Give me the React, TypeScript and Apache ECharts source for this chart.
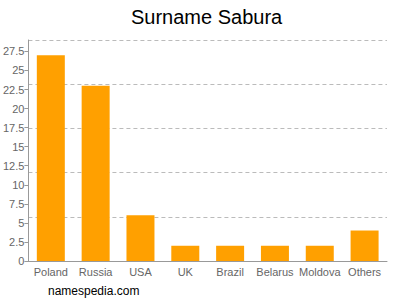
import React, { useEffect, useRef } from "react";
import * as echarts from "echarts";

const categories = ["Poland", "Russia", "USA", "UK", "Brazil", "Belarus", "Moldova", "Others"];
const counts = [27, 23, 6, 2, 2, 2, 2, 4];
const tickValues = [0, 2.5, 5, 7.5, 10, 12.5, 15, 17.5, 20, 22.5, 25, 27.5];
const axisMax = 29;

export default function App() {
  const ref = useRef<HTMLDivElement>(null);
  useEffect(() => {
    if (!ref.current) return;
    const chart = echarts.init(ref.current, undefined, { renderer: "svg" });
    const font = "Liberation Sans, Arial, sans-serif";
    chart.setOption({
      animation: false,
      textStyle: { fontFamily: font },
      title: {
        text: "Surname Sabura",
        left: 126,
        top: 2,
        textStyle: { fontSize: 20, fontWeight: "normal", color: "#000", fontFamily: font },
      },
      graphic: [
        {
          type: "text",
          left: 48,
          top: 285,
          style: { text: "namespedia.com", fontSize: 12, fill: "#000", fontFamily: font },
        },
      ],
      grid: { left: 28, right: 13, top: 40, bottom: 39, containLabel: false },
      xAxis: {
        type: "category",
        data: categories,
        axisLine: { lineStyle: { color: "#999" } },
        axisTick: { alignWithLabel: true, length: 4, lineStyle: { color: "#999" } },
        axisLabel: { color: "#666", fontSize: 11, margin: 5, interval: 0 },
        splitLine: { show: false },
      },
      yAxis: [
        {
          type: "value",
          min: 0,
          max: axisMax,
          axisLine: { show: true, lineStyle: { color: "#999" } },
          axisTick: { show: true, length: 4, lineStyle: { color: "#999" }, customValues: tickValues },
          axisLabel: {
            color: "#666",
            fontSize: 11,
            margin: 4,
            customValues: tickValues,
            formatter: (v: number) => String(v),
          },
          splitLine: { show: false },
        },
        {
          type: "value",
          min: 0,
          max: axisMax,
          interval: axisMax / 5,
          position: "left",
          axisLine: { show: false },
          axisTick: { show: false },
          axisLabel: { show: false },
          splitLine: { show: true, lineStyle: { color: "#bbb", type: [4, 3] } },
        },
      ],
      series: [
        {
          type: "bar",
          data: counts,
          yAxisIndex: 0,
          barWidth: 28,
          itemStyle: { color: "#ffa000" },
        },
      ],
    });
    return () => chart.dispose();
  }, []);
  return <div ref={ref} style={{ width: 400, height: 300, position: "absolute", left: 0, top: 0 }} />;
}
